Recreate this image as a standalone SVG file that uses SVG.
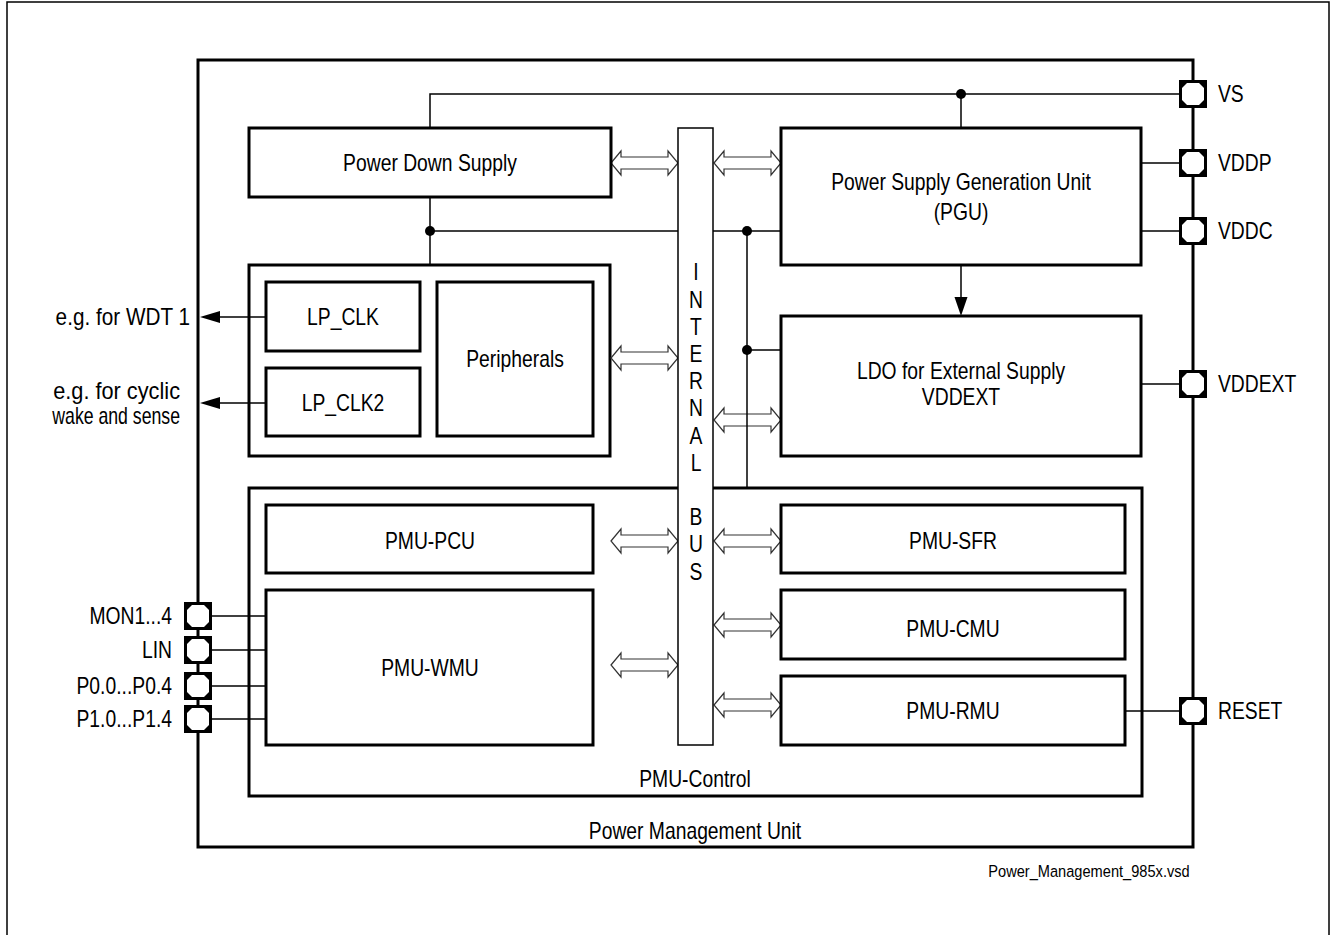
<svg xmlns="http://www.w3.org/2000/svg" width="1332" height="935" viewBox="0 0 1332 935">
<style>
.box{fill:#fff;stroke:#000;stroke-width:3}
.bus{fill:#fff;stroke:#000;stroke-width:1.5}
.w{fill:none;stroke:#000;stroke-width:1.5}
.da{fill:#fff;stroke:#333;stroke-width:1.2}
.t{font-family:"Liberation Sans",Arial,sans-serif;font-size:23px;fill:#000}
.m{text-anchor:middle}
.e{text-anchor:end}
.s{font-family:"Liberation Sans",Arial,sans-serif;font-size:17px;fill:#000;text-anchor:middle}
</style>
<defs>
<g id="pin"><rect x="-14" y="-14" width="28" height="28" fill="#000"/><polygon points="-6,-11 6,-11 11,-6 11,6 6,11 -6,11 -11,6 -11,-6" fill="#fff"/></g>
<polygon id="dar" points="0,0 10,-12 10,-6 57,-6 57,-12 67,0 57,12 57,6 10,6 10,12" class="da"/>
</defs>
<rect x="7" y="2" width="1322" height="945" fill="none" stroke="#000" stroke-width="1.5"/>
<g id="pmu"><rect x="198" y="60" width="995" height="787" class="box"/><text class="t m" transform="translate(695,839) scale(0.84,1)">Power Management Unit</text></g>
<g id="pmu-control"><rect x="249" y="488" width="893" height="308" class="box"/><text class="t m" transform="translate(695,787) scale(0.84,1)">PMU-Control</text></g>
<g id="clkgroup"><rect x="249" y="265" width="361" height="191" class="box"/></g>
<g id="connectors">
<use href="#dar" x="611" y="163"/>
<use href="#dar" x="714" y="163"/>
<use href="#dar" x="611" y="358"/>
<use href="#dar" x="714" y="420"/>
<use href="#dar" x="611" y="541"/>
<use href="#dar" x="714" y="541"/>
<use href="#dar" x="611" y="665"/>
<use href="#dar" x="714" y="625"/>
<use href="#dar" x="714" y="705"/>
<polyline class="w" points="430,128 430,94 1193,94"/>
<line class="w" x1="961" y1="94" x2="961" y2="128"/>
<line class="w" x1="430" y1="197" x2="430" y2="265"/>
<line class="w" x1="430" y1="231" x2="678" y2="231"/>
<line class="w" x1="713" y1="231" x2="781" y2="231"/>
<line class="w" x1="747" y1="231" x2="747" y2="488"/>
<line class="w" x1="747" y1="350" x2="781" y2="350"/>
<circle cx="430" cy="231" r="5"/>
<circle cx="747" cy="231" r="5"/>
<circle cx="961" cy="94" r="5"/>
<circle cx="747" cy="350" r="5"/>
<line class="w" x1="1141" y1="163" x2="1193" y2="163"/>
<line class="w" x1="1141" y1="231" x2="1193" y2="231"/>
<line class="w" x1="1141" y1="384" x2="1193" y2="384"/>
<line class="w" x1="1125" y1="711" x2="1193" y2="711"/>
<line class="w" x1="961" y1="265" x2="961" y2="300"/>
<polygon points="961,316 954.5,297 967.5,297"/>
<line class="w" x1="266" y1="317" x2="218" y2="317"/>
<polygon points="200,317 220,311 220,323"/>
<line class="w" x1="266" y1="403" x2="218" y2="403"/>
<polygon points="200,403 220,397 220,409"/>
<line class="w" x1="198" y1="616" x2="266" y2="616"/>
<line class="w" x1="198" y1="650" x2="266" y2="650"/>
<line class="w" x1="198" y1="686" x2="266" y2="686"/>
<line class="w" x1="198" y1="719" x2="266" y2="719"/>
</g>
<g id="bus"><rect x="678" y="128" width="35" height="617" class="bus"/>
<text class="t m" transform="translate(696,280) scale(0.84,1)">I</text>
<text class="t m" transform="translate(696,308) scale(0.84,1)">N</text>
<text class="t m" transform="translate(696,335) scale(0.84,1)">T</text>
<text class="t m" transform="translate(696,362) scale(0.84,1)">E</text>
<text class="t m" transform="translate(696,389) scale(0.84,1)">R</text>
<text class="t m" transform="translate(696,416) scale(0.84,1)">N</text>
<text class="t m" transform="translate(696,444) scale(0.84,1)">A</text>
<text class="t m" transform="translate(696,471) scale(0.84,1)">L</text>
<text class="t m" transform="translate(696,525) scale(0.84,1)">B</text>
<text class="t m" transform="translate(696,552) scale(0.84,1)">U</text>
<text class="t m" transform="translate(696,580) scale(0.84,1)">S</text>
</g>
<g id="pds"><rect x="249" y="128" width="362" height="69" class="box"/><text class="t m" transform="translate(430,171) scale(0.84,1)">Power Down Supply</text></g>
<g id="pgu"><rect x="781" y="128" width="360" height="137" class="box"/><text class="t m" transform="translate(961,190) scale(0.84,1)">Power Supply Generation Unit</text><text class="t m" transform="translate(961,220) scale(0.84,1)">(PGU)</text></g>
<g id="ldo"><rect x="781" y="316" width="360" height="140" class="box"/><text class="t m" transform="translate(961,379) scale(0.84,1)">LDO for External Supply</text><text class="t m" transform="translate(961,405) scale(0.84,1)">VDDEXT</text></g>
<g id="lpclk"><rect x="266" y="282" width="154" height="69" class="box"/><text class="t m" transform="translate(343,325) scale(0.84,1)">LP_CLK</text></g>
<g id="lpclk2"><rect x="266" y="368" width="154" height="68" class="box"/><text class="t m" transform="translate(343,411) scale(0.84,1)">LP_CLK2</text></g>
<g id="periph"><rect x="437" y="282" width="156" height="154" class="box"/><text class="t m" transform="translate(515,367) scale(0.84,1)">Peripherals</text></g>
<g id="pcu"><rect x="266" y="505" width="327" height="68" class="box"/><text class="t m" transform="translate(430,549) scale(0.84,1)">PMU-PCU</text></g>
<g id="wmu"><rect x="266" y="590" width="327" height="155" class="box"/><text class="t m" transform="translate(430,676) scale(0.84,1)">PMU-WMU</text></g>
<g id="sfr"><rect x="781" y="505" width="344" height="68" class="box"/><text class="t m" transform="translate(953,549) scale(0.84,1)">PMU-SFR</text></g>
<g id="cmu"><rect x="781" y="590" width="344" height="69" class="box"/><text class="t m" transform="translate(953,637) scale(0.84,1)">PMU-CMU</text></g>
<g id="rmu"><rect x="781" y="676" width="344" height="69" class="box"/><text class="t m" transform="translate(953,719) scale(0.84,1)">PMU-RMU</text></g>
<g id="pins">
<use href="#pin" x="1193" y="94"/><text class="t" transform="translate(1218,102) scale(0.84,1)">VS</text>
<use href="#pin" x="1193" y="163"/><text class="t" transform="translate(1218,171) scale(0.84,1)">VDDP</text>
<use href="#pin" x="1193" y="231"/><text class="t" transform="translate(1218,239) scale(0.84,1)">VDDC</text>
<use href="#pin" x="1193" y="384"/><text class="t" transform="translate(1218,392) scale(0.84,1)">VDDEXT</text>
<use href="#pin" x="1193" y="711"/><text class="t" transform="translate(1218,719) scale(0.84,1)">RESET</text>
<use href="#pin" x="198" y="616"/><text class="t e" transform="translate(172,624) scale(0.84,1)">MON1...4</text>
<use href="#pin" x="198" y="650"/><text class="t e" transform="translate(172,658) scale(0.84,1)">LIN</text>
<use href="#pin" x="198" y="686"/><text class="t e" transform="translate(172,694) scale(0.84,1)">P0.0...P0.4</text>
<use href="#pin" x="198" y="719"/><text class="t e" transform="translate(172,727) scale(0.84,1)">P1.0...P1.4</text>
</g>
<g id="labels">
<text class="t e" transform="translate(190,325) scale(0.84,1)" textLength="160" lengthAdjust="spacingAndGlyphs">e.g. for WDT 1</text>
<text class="t e" transform="translate(180,399) scale(0.84,1)" textLength="151" lengthAdjust="spacingAndGlyphs">e.g. for cyclic</text>
<text class="t e" transform="translate(180,424) scale(0.84,1)" textLength="152" lengthAdjust="spacingAndGlyphs">wake and sense</text>
<text class="s" transform="translate(1089,877) scale(0.86,1)">Power_Management_985x.vsd</text>
</g>
</svg>
